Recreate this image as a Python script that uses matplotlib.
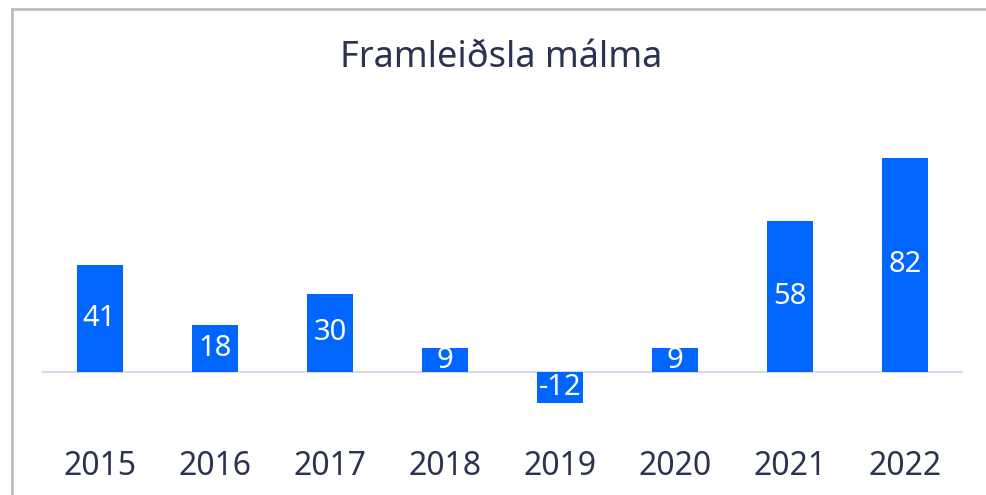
import matplotlib
matplotlib.use('Agg')
import matplotlib.pyplot as plt
from matplotlib.lines import Line2D

plt.rcParams['font.family'] = ['Noto Sans', 'DejaVu Sans']

years = ['2015', '2016', '2017', '2018', '2019', '2020', '2021', '2022']
values = [41, 18, 30, 9, -12, 9, 58, 82]

BAR_COLOR = '#0066ff'
TEXT_COLOR = '#2b3350'

fig = plt.figure(figsize=(9.87, 4.95), dpi=100, facecolor='white')
ax = fig.add_axes([0.0426, 0.1434, 0.933, 0.606])

x = range(len(years))
bars = ax.bar(x, values, width=0.4, color=BAR_COLOR, zorder=2)
ax.axhline(0, color='#d8d8f0', lw=1.5, zorder=1)

for bar, v in zip(bars, values):
    ax.text(bar.get_x() + bar.get_width() / 2, v / 2, str(v),
            ha='center', va='center', color='white', fontsize=21, zorder=3)

ax.set_xlim(-0.5, len(years) - 0.5)
ax.set_ylim(-20, 95)
ax.set_xticks(list(x))
ax.set_xticklabels(years, fontsize=23, color=TEXT_COLOR)
ax.tick_params(axis='x', length=0, pad=19)
ax.set_yticks([])
for s in ax.spines.values():
    s.set_visible(False)

fig.text(0.508, 0.882, 'Framleiðsla málma', ha='center', va='center',
         fontsize=26, color=TEXT_COLOR)

# grey frame at top and left
fig.add_artist(Line2D([0.0117, 1.0], [0.981, 0.981], color='#bbbbbb', lw=2,
                      transform=fig.transFigure))
fig.add_artist(Line2D([0.0117, 0.0117], [0.0, 0.981], color='#bbbbbb', lw=2,
                      transform=fig.transFigure))

fig.savefig('out.png', dpi=100, facecolor='white')
